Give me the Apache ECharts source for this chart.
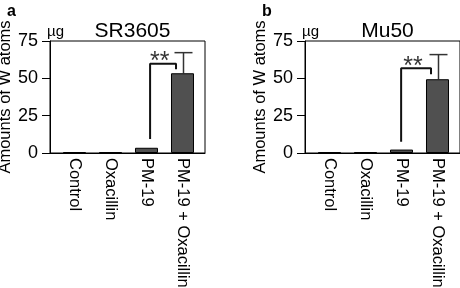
<!DOCTYPE html>
<html>
<head>
<meta charset="utf-8">
<script src="https://cdn.jsdelivr.net/npm/echarts@6/dist/echarts.min.js"></script>
<style>
  html, body { margin: 0; padding: 0; background: #fff; }
  #chart { width: 460px; height: 288px; }
</style>
</head>
<body>
<div id="chart"></div>
<script>
const categories = ["Control", "Oxacillin", "PM-19", "PM-19 + Oxacillin"];
const yTicks = [0, 25, 50, 75];

const sr3605Means = [0.6, 0.5, 3.5, 53.4];
const sr3605Err = [0, 0, 0, 13.8];
const sr3605Bracket = [[3.1, 9.4], [3.1, 59.7], [3.82, 59.7], [3.82, 56.1]];
const sr3605Stars = [[3.37, 61]];

const mu50Means = [0.5, 0.5, 2.3, 49.4];
const mu50Err = [0, 0, 0, 16.5];
const mu50Bracket = [[2.99, 7.5], [2.99, 56.8], [3.82, 56.8], [3.82, 52.8]];
const mu50Stars = [[3.32, 57.5]];

const panels = [
  { title: "SR3605", letter: "a", means: sr3605Means, err: sr3605Err, bracket: sr3605Bracket, stars: sr3605Stars, left: 50 },
  { title: "Mu50", letter: "b", means: mu50Means, err: mu50Err, bracket: mu50Bracket, stars: mu50Stars, left: 305 },
];

const font = "'Liberation Sans', Arial, Helvetica, sans-serif";
const chart = echarts.init(document.getElementById("chart"));

let grid = [], xAxis = [], yAxis = [], series = [], title = [];

panels.forEach((p, i) => {
  grid.push({
    left: p.left, top: 41, width: 155, height: 112,
    outerBoundsMode: "none", containLabel: false,
    show: true, borderColor: "#000", borderWidth: 1,
  });
  xAxis.push({
    type: "value", gridIndex: i, min: 0.32, max: 4.625,
    axisLine: { show: true, lineStyle: { color: "#000", width: 1 } },
    axisTick: { show: false },
    splitLine: { show: false },
    axisLabel: {
      customValues: [1, 2, 3, 4],
      formatter: (v) => categories[Math.round(v) - 1] || "",
      rotate: -90, margin: 5,
      color: "#000", fontSize: 16.5, fontFamily: font,
    },
  });
  yAxis.push({
    type: "value", gridIndex: i, min: 0, max: 75, interval: 25,
    name: "Amounts of W atoms", nameLocation: "middle", nameRotate: 90, nameGap: 32,
    nameTextStyle: { color: "#000", fontSize: 16.5, fontFamily: font },
    axisLine: { show: true, lineStyle: { color: "#000", width: 1 } },
    axisTick: { show: true, length: 8, lineStyle: { color: "#000" } },
    splitLine: { show: false },
    axisLabel: { color: "#000", fontSize: 18, fontFamily: font, margin: 12 },
  });
  title.push({
    text: p.title, left: p.left + 77.5, top: 16, textAlign: "center",
    textStyle: { color: "#000", fontSize: 21, fontWeight: "normal", fontFamily: font },
  });
  title.push({
    text: p.letter, left: p.left - 48, top: -1,
    textStyle: { color: "#000", fontSize: 16, fontWeight: "bold", fontFamily: font },
  });
  title.push({
    text: "µg", left: p.left - 8, top: 19,
    textStyle: { color: "#000", fontSize: 15, fontWeight: "normal", fontFamily: font },
  });

  series.push({
    type: "bar", xAxisIndex: i, yAxisIndex: i, barWidth: 23,
    data: p.means.map((v, k) => [k + 1, v]),
    itemStyle: { color: "#505050", borderColor: "#000", borderWidth: 1 },
    z: 3,
  });
  series.push({
    type: "custom", xAxisIndex: i, yAxisIndex: i,
    data: p.means.map((v, k) => [k + 1, v, v + p.err[k]]).filter((d, k) => p.err[k] > 0),
    renderItem: (params, api) => {
      const base = api.coord([api.value(0), api.value(1)]);
      const top = api.coord([api.value(0), api.value(2)]);
      const cx = base[0] + 1;
      return {
        type: "group",
        children: [
          { type: "line", shape: { x1: cx, y1: base[1], x2: cx, y2: top[1] }, style: { stroke: "#333", lineWidth: 1.5 } },
          { type: "line", shape: { x1: cx - 9, y1: top[1], x2: cx + 9, y2: top[1] }, style: { stroke: "#333", lineWidth: 1.5 } },
        ],
      };
    },
    z: 2,
  });
  series.push({
    type: "line", xAxisIndex: i, yAxisIndex: i,
    data: p.bracket, symbol: "none",
    lineStyle: { color: "#111", width: 2 },
    z: 4,
  });
  series.push({
    type: "scatter", xAxisIndex: i, yAxisIndex: i,
    data: p.stars, symbolSize: 0,
    label: {
      show: true, position: "inside", formatter: "**",
      color: "#000", fontSize: 25, fontWeight: "normal", fontFamily: font,
    },
    z: 5,
  });
});

chart.setOption({
  animation: false,
  title: title,
  grid: grid,
  xAxis: xAxis,
  yAxis: yAxis,
  series: series,
});
</script>
</body>
</html>
